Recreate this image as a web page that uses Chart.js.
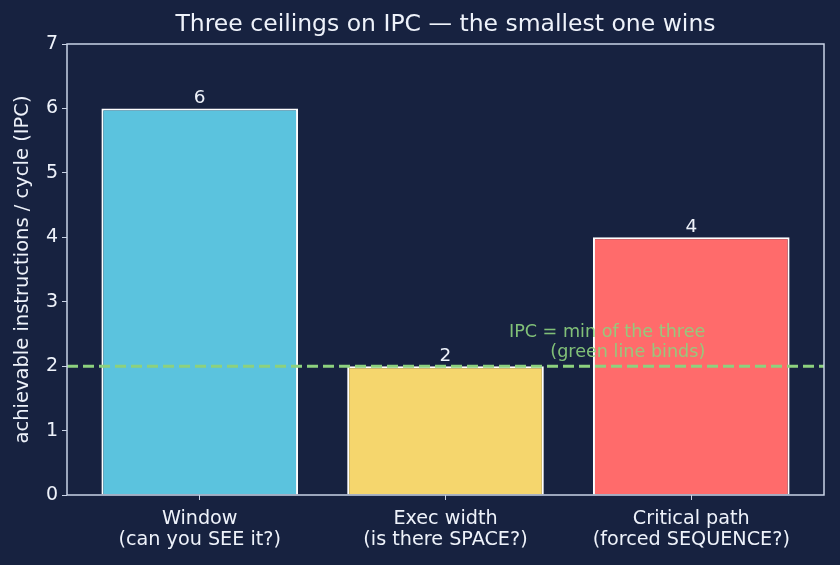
<!DOCTYPE html>
<html>
<head>
<meta charset="utf-8">
<script src="https://cdn.jsdelivr.net/npm/chart.js@4/dist/chart.umd.min.js"></script>
<style>
  html, body { margin: 0; padding: 0; background: #172240; }
  #wrap { width: 840px; height: 565px; }
</style>
</head>
<body>
<div id="wrap"><canvas id="ipcChart"></canvas></div>
<script>
let categories = [['Window', '(can you SEE it?)'], ['Exec width', '(is there SPACE?)'], ['Critical path', '(forced SEQUENCE?)']];
let ceilings = [6, 2, 4];
let barColors = ['#5bc3de', '#f5d66d', '#ff6b6b'];
let yTicks = [0, 1, 2, 3, 4, 5, 6, 7];
let bindingIPC = 2;
let noteLines = ['IPC = min of the three', '(green line binds)'];

let frameColor = '#c9d3e6';
let textColor = '#eef2fa';
let green = '#8dd17e';
let font = 'DejaVu Sans';

// frame, dashed binding line, bar labels, note
let extras = {
  id: 'extras',
  afterDatasetsDraw(chart) {
    let ctx = chart.ctx;
    let a = chart.chartArea;
    let xs = chart.scales.x, ys = chart.scales.y;
    ctx.save();

    ctx.fillStyle = textColor;
    ctx.font = '18.5px "' + font + '"';
    ctx.textAlign = 'center';
    ctx.textBaseline = 'bottom';
    chart.getDatasetMeta(0).data.forEach((bar, i) => {
      ctx.fillText(String(ceilings[i]), bar.x, bar.y - 1);
    });

    let yb = ys.getPixelForValue(bindingIPC);
    ctx.strokeStyle = green;
    ctx.lineWidth = 3;
    ctx.setLineDash([11, 5]);
    ctx.beginPath();
    ctx.moveTo(a.left, yb);
    ctx.lineTo(a.right, yb);
    ctx.stroke();
    ctx.setLineDash([]);

    ctx.globalAlpha = 0.9;
    ctx.fillStyle = green;
    ctx.font = '17.6px "' + font + '"';
    ctx.textAlign = 'right';
    ctx.textBaseline = 'middle';
    let nx = xs.getPixelForValue(2.057);
    ctx.fillText(noteLines[0], nx, 332);
    ctx.fillText(noteLines[1], nx, 352);
    ctx.globalAlpha = 1;

    ctx.strokeStyle = frameColor;
    ctx.lineWidth = 1.5;
    ctx.strokeRect(a.left, a.top, a.right - a.left, a.bottom - a.top);
    ctx.restore();
  }
};

let bg = {
  id: 'bg',
  beforeDraw(chart) {
    let ctx = chart.ctx;
    ctx.save();
    ctx.fillStyle = '#172240';
    ctx.fillRect(0, 0, chart.width, chart.height);
    ctx.restore();
  }
};

let myChart = document.getElementById('ipcChart').getContext('2d');
let chart = new Chart(myChart, {
  type: 'bar',
  data: {
    datasets: [{
      data: ceilings.map((v, i) => ({ x: i, y: v })),
      backgroundColor: barColors,
      borderColor: '#ffffff',
      borderWidth: 2,
      categoryPercentage: 1,
      barPercentage: 0.8
    }]
  },
  options: {
    responsive: true,
    maintainAspectRatio: false,
    animation: false,
    layout: { padding: { left: 0, right: 16, top: 0, bottom: 0 } },
    plugins: {
      legend: { display: false },
      tooltip: { enabled: false },
      title: {
        display: true,
        fullSize: false,
        text: 'Three ceilings on IPC \u2014 the smallest one wins',
        color: textColor,
        font: { family: font, size: 23.5, weight: 'normal', lineHeight: 1 },
        padding: { top: 13, bottom: 7.5 }
      }
    },
    scales: {
      x: {
        type: 'linear',
        offset: false,
        min: -0.54,
        max: 2.54,
        afterBuildTicks: s => { s.ticks = categories.map((c, i) => ({ value: i })); },
        afterFit: s => { s.height = 70; },
        grid: { offset: false, drawOnChartArea: false, drawTicks: true, tickLength: 5, color: frameColor },
        border: { display: false },
        ticks: {
          color: textColor,
          font: { family: font, size: 19.2, lineHeight: 1.1 },
          padding: 8,
          maxRotation: 0,
          autoSkip: false,
          callback: v => categories[v]
        }
      },
      y: {
        min: 0,
        max: 7,
        afterBuildTicks: s => { s.ticks = yTicks.map(v => ({ value: v })); },
        afterFit: s => { s.width = 67; },
        grid: { drawOnChartArea: false, drawTicks: true, tickLength: 5, color: frameColor },
        border: { display: false },
        title: {
          display: true,
          text: 'achievable instructions / cycle (IPC)',
          color: textColor,
          font: { family: font, size: 19.5 },
          padding: { top: 11, bottom: 2 }
        },
        ticks: {
          color: textColor,
          font: { family: font, size: 19 },
          padding: 4
        }
      }
    }
  },
  plugins: [bg, extras]
});
</script>
</body>
</html>
